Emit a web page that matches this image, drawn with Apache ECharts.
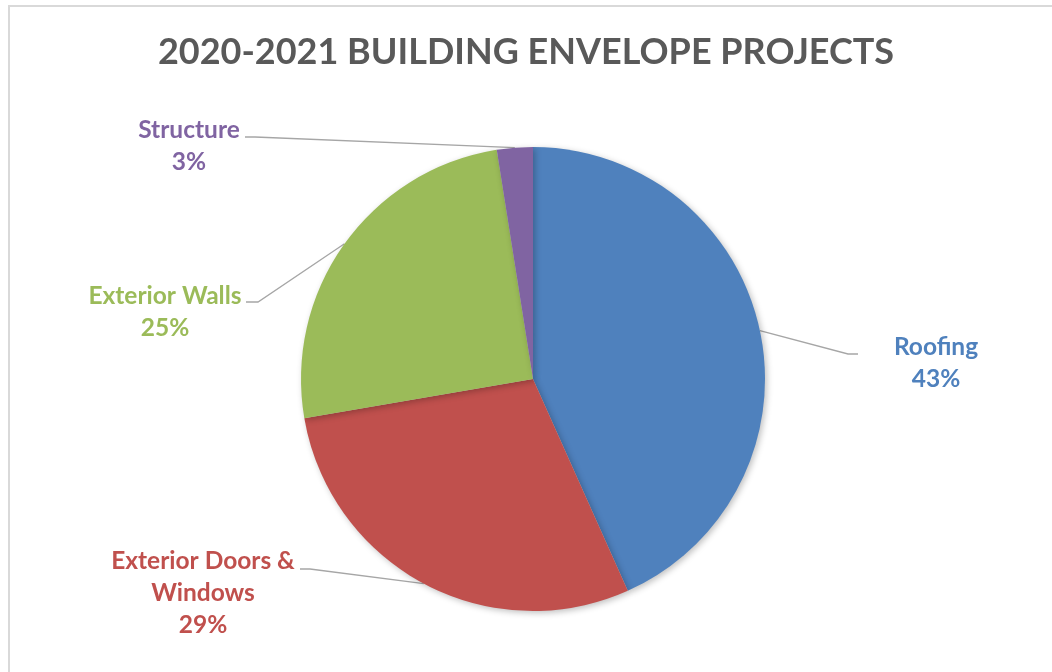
<!DOCTYPE html>
<html>
<head>
<meta charset="utf-8">
<script src="https://cdn.jsdelivr.net/npm/echarts@6/dist/echarts.min.js"></script>
<style>
  html, body { margin: 0; padding: 0; background: #fff; }
  #frame { position: absolute; left: 8px; top: 5px; width: 1100px; height: 700px; border-left: 2px solid #D9D9D9; border-top: 2px solid #D9D9D9; }
  #chart { position: absolute; left: 0; top: 0; width: 1052px; height: 672px; }
</style>
</head>
<body>
<div id="frame"></div>
<div id="chart"></div>
<script>
const titleText = '2020-2021 BUILDING ENVELOPE PROJECTS';
const categories = ['Roofing', 'Exterior Doors & Windows', 'Exterior Walls', 'Structure'];
const values = [43.3, 29.0, 25.2, 2.5];
const colors = ['#4F81BD', '#C0504D', '#9BBB59', '#8064A2'];

// label anchor positions (style only): text center x, first line center y, elbow point, line end
const labelPos = [
  { x: 936, y: 347, elbow: [848, 354], end: [858, 354] },
  { x: 203, y: 561, elbow: [310, 569], end: [300, 569] },
  { x: 165, y: 296, elbow: [258, 302], end: [246, 302] },
  { x: 189, y: 130, elbow: [255, 137], end: [245, 137] }
];

const chart = echarts.init(document.getElementById('chart'), null, { renderer: 'canvas' });
const FONT = 'Lato';

chart.setOption({
  animation: false,
  title: {
    text: titleText,
    left: 'center',
    top: 29,
    textStyle: { fontFamily: FONT, fontWeight: 'bold', fontSize: 36, color: '#595959' }
  },
  series: [{
    type: 'pie',
    center: [533, 379],
    radius: [0, 232],
    startAngle: 90,
    clockwise: true,
    percentPrecision: 2,
    data: categories.map((c, i) => ({ name: c, value: values[i], itemStyle: { color: colors[i] } })),
    itemStyle: {
      borderWidth: 0,
      shadowBlur: 6,
      shadowOffsetX: 2,
      shadowOffsetY: 2,
      shadowColor: 'rgba(0,0,0,0.25)'
    },
    label: {
      show: true,
      position: 'outside',
      formatter: function (p) {
        const n = p.name.replace('Doors & ', 'Doors &\n');
        return n + '\n' + Math.round(p.percent) + '%';
      },
      fontFamily: FONT,
      fontWeight: 'bold',
      fontSize: 24.5,
      lineHeight: 32,
      align: 'center',
      color: 'inherit'
    },
    labelLine: {
      show: true,
      length: 20,
      length2: 10,
      lineStyle: { color: '#A6A6A6', width: 1.3 }
    },
    emphasis: { disabled: true },
    labelLayout: function (params) {
      const i = params.dataIndex;
      const lp = labelPos[i];
      const pts = params.labelLinePoints;
      const start = pts ? pts[0] : lp.elbow;
      return {
        x: lp.x,
        y: lp.y - 16,
        align: 'center',
        verticalAlign: 'top',
        labelLinePoints: [start, lp.elbow, lp.end]
      };
    }
  }]
});
</script>
</body>
</html>
